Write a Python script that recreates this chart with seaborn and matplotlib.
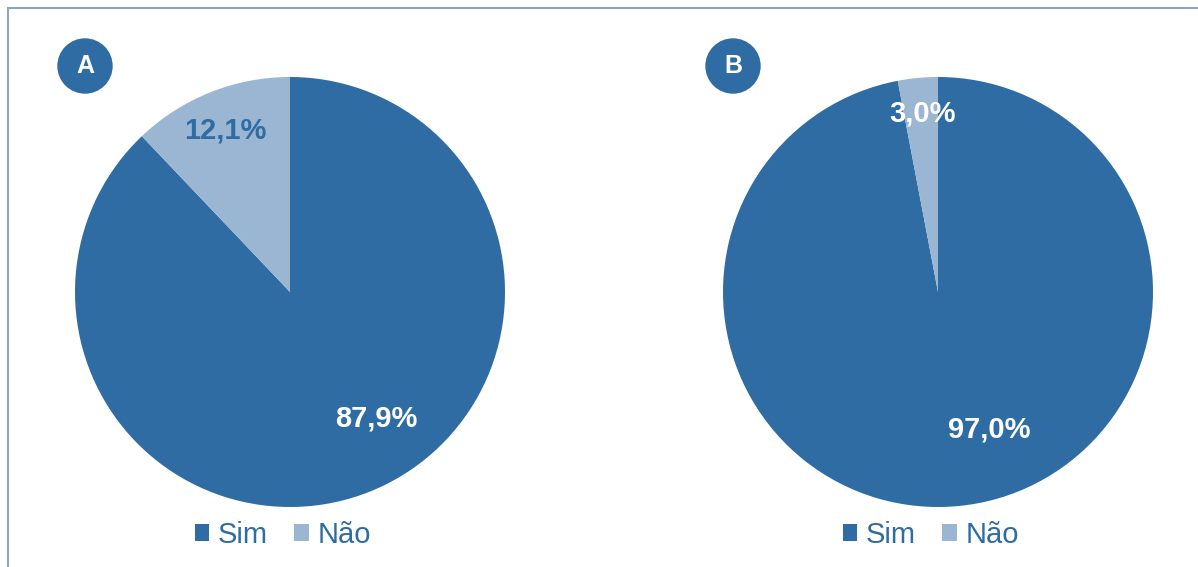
import matplotlib
matplotlib.use("Agg")
import matplotlib.pyplot as plt
import seaborn as sns
from matplotlib.patches import Patch, Circle
from matplotlib.lines import Line2D

sns.set_theme(style="white")
plt.rcParams['font.family'] = ['Liberation Sans', 'DejaVu Sans']

categories = ["Sim", "Não"]
values_a = [87.9, 12.1]
values_b = [97.0, 3.0]
labels_a = ["87,9%", "12,1%"]
labels_b = ["97,0%", "3,0%"]
panel_names = ["A", "B"]

dark = "#2E6CA3"
light = "#9AB6D2"
colors = [dark, light]

W, H = 1198, 567
fig = plt.figure(figsize=(W / 100, H / 100), dpi=100)
fig.patch.set_facecolor("white")

# frame lines (top and left)
fig.add_artist(Line2D([8 / W, 8 / W], [0, 1 - 8 / H], transform=fig.transFigure,
                      color="#8AA7BF", lw=1.5))
fig.add_artist(Line2D([8 / W, 1], [1 - 8 / H, 1 - 8 / H], transform=fig.transFigure,
                      color="#8AA7BF", lw=1.5))

R = 215
cy = 292
centers = [290, 938]
datasets = [values_a, values_b]
labelsets = [labels_a, labels_b]
label_pos = [
    [(0.40, -0.59), (-0.30, 0.75)],
    [(0.24, -0.64), (-0.074, 0.83)],
]
label_colors = [["white", dark], ["white", "white"]]

for i, (cx, vals, labs) in enumerate(zip(centers, datasets, labelsets)):
    ax = fig.add_axes([(cx - R) / W, (H - cy - R) / H, 2 * R / W, 2 * R / H])
    ax.pie(vals, colors=colors, startangle=90, counterclock=False,
           radius=1.0, wedgeprops=dict(linewidth=0))
    ax.set_xlim(-1, 1)
    ax.set_ylim(-1, 1)
    ax.set_aspect("equal")
    ax.axis("off")
    for (x, y), t, c in zip(label_pos[i], labs, label_colors[i]):
        ax.text(x, y, t, ha="center", va="center", fontsize=21,
                fontweight="bold", color=c)

    # badge
    bx = (cx - 205) / W
    by = 1 - 66 / H
    badge = Circle((cx - 205, H - 66), 27, transform=None, color=dark)
    fig.add_artist(badge)
    fig.text(bx, by, panel_names[i], ha="center", va="center", fontsize=18,
             fontweight="bold", color="white")

    handles = [Patch(facecolor=c, edgecolor="none") for c in colors]
    fig.legend(handles, categories, loc="center",
               bbox_to_anchor=((cx - 7) / W, 1 - 535 / H), ncol=2, frameon=False,
               fontsize=21, handlelength=0.5, handleheight=0.5, handletextpad=0.3,
               columnspacing=0.9, labelcolor=dark)

fig.savefig("out.png", dpi=100, facecolor="white")
